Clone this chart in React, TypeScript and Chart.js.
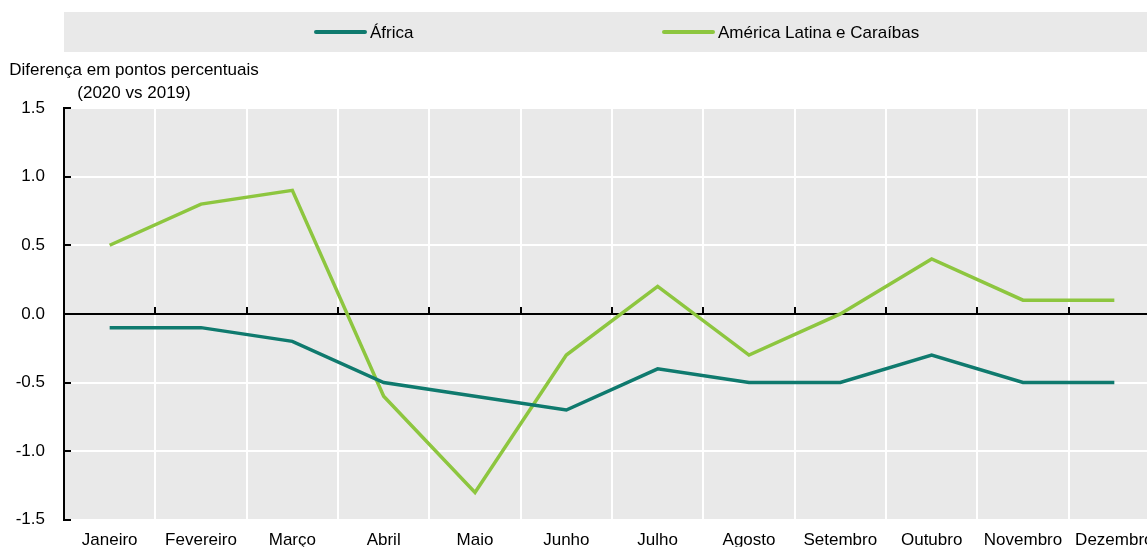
import React, { useEffect, useRef } from "react";
import { Chart, registerables } from "chart.js";

Chart.register(...registerables);

const months = [
  "Janeiro", "Fevereiro", "Março", "Abril", "Maio", "Junho",
  "Julho", "Agosto", "Setembro", "Outubro", "Novembro", "Dezembro",
];
const africa = [-0.1, -0.1, -0.2, -0.5, -0.6, -0.7, -0.4, -0.5, -0.5, -0.3, -0.5, -0.5];
const latam = [0.5, 0.8, 0.9, -0.6, -1.3, -0.3, 0.2, -0.3, 0.0, 0.4, 0.1, 0.1];
const seriesNames = ["África", "América Latina e Caraíbas"];
const seriesColors = ["#0f7a6e", "#8dc63f"];
const yMin = -1.5;
const yMax = 1.5;
const yStep = 0.5;
const yTitleLines = ["Diferença em pontos percentuais", "(2020 vs 2019)"];

const FONT = '"Liberation Sans", Arial, Helvetica, sans-serif';
const GREY = "#e9e9e9";

const decorPlugin = {
  id: "decor",
  beforeDraw(chart: any) {
    const { ctx, chartArea, width } = chart;
    ctx.save();
    // plot background
    ctx.fillStyle = GREY;
    ctx.fillRect(chartArea.left, chartArea.top, chartArea.right - chartArea.left, chartArea.bottom - chartArea.top);
    // legend box
    ctx.fillRect(chartArea.left, 12, width - chartArea.left, 40);
    const itemX = [315, 663];
    ctx.font = `17px ${FONT}`;
    ctx.textBaseline = "middle";
    ctx.textAlign = "left";
    chart.data.datasets.forEach((ds: any, i: number) => {
      const x = itemX[i];
      ctx.strokeStyle = ds.borderColor;
      ctx.lineWidth = 4;
      ctx.lineCap = "round";
      ctx.beginPath();
      ctx.moveTo(x + 1, 32);
      ctx.lineTo(x + 50, 32);
      ctx.stroke();
      ctx.fillStyle = "#000";
      ctx.fillText(ds.label, x + 55, 33);
    });
    // y-axis title
    ctx.textAlign = "center";
    ctx.textBaseline = "alphabetic";
    ctx.fillStyle = "#000";
    ctx.fillText(yTitleLines[0], 134, 75);
    ctx.fillText(yTitleLines[1], 134, 98);
    ctx.restore();
  },
  beforeDatasetsDraw(chart: any) {
    const { ctx, chartArea, scales } = chart;
    const x = scales.x;
    const y = scales.y;
    ctx.save();
    ctx.strokeStyle = "#000";
    ctx.lineWidth = 2;
    ctx.lineCap = "butt";
    const y0 = Math.round(y.getPixelForValue(0));
    // zero line
    ctx.beginPath();
    ctx.moveTo(chartArea.left, y0);
    ctx.lineTo(chartArea.right, y0);
    ctx.stroke();
    // ticks on zero line at category boundaries
    for (let i = 0; i < months.length - 1; i++) {
      const bx = Math.round((x.getPixelForValue(i) + x.getPixelForValue(i + 1)) / 2);
      ctx.beginPath();
      ctx.moveTo(bx, y0);
      ctx.lineTo(bx, y0 - 7);
      ctx.stroke();
    }
    // inward ticks on y axis
    y.ticks.forEach((t: any) => {
      const py = Math.round(y.getPixelForValue(t.value));
      ctx.beginPath();
      ctx.moveTo(chartArea.left, py);
      ctx.lineTo(chartArea.left + 7, py);
      ctx.stroke();
    });
    ctx.restore();
  },
};

function LineChart() {
  const ref = useRef<HTMLCanvasElement | null>(null);
  useEffect(() => {
    if (!ref.current) return;
    Chart.defaults.font.family = FONT;
    Chart.defaults.font.size = 17;
    Chart.defaults.color = "#000";
    const chart = new Chart(ref.current, {
      type: "line",
      data: {
        labels: months,
        datasets: [
          {
            label: seriesNames[0],
            data: africa,
            borderColor: seriesColors[0],
            backgroundColor: seriesColors[0],
            borderWidth: 3.5,
            pointRadius: 0,
            tension: 0,
          },
          {
            label: seriesNames[1],
            data: latam,
            borderColor: seriesColors[1],
            backgroundColor: seriesColors[1],
            borderWidth: 3.5,
            pointRadius: 0,
            tension: 0,
          },
        ],
      },
      options: {
        animation: false,
        responsive: false,
        maintainAspectRatio: false,
        layout: { padding: { top: 108, right: 0, left: 0, bottom: 0 } },
        plugins: {
          legend: { display: false },
          tooltip: { enabled: false },
          title: { display: false },
        },
        scales: {
          x: {
            type: "category",
            offset: true,
            grid: { offset: true, color: "#fff", lineWidth: 2, drawTicks: false },
            border: { display: false },
            ticks: { padding: 10, maxRotation: 0, autoSkip: false, font: { size: 17 } },
            afterFit: (s: any) => {
              s.height = 27;
              s.paddingLeft = 0;
              s.paddingRight = 0;
            },
          },
          y: {
            min: yMin,
            max: yMax,
            ticks: {
              stepSize: yStep,
              padding: 19,
              font: { size: 17 },
              callback: (v: any) => Number(v).toFixed(1),
            },
            grid: { color: "#fff", lineWidth: 2, drawTicks: false },
            border: { display: true, color: "#000", width: 2 },
            afterFit: (s: any) => {
              s.width = 64;
            },
          },
        },
      },
      plugins: [decorPlugin],
    });
    return () => chart.destroy();
  }, []);
  return <canvas ref={ref} width={1160} height={549} style={{ display: "block" }} />;
}

export default function App() {
  return (
    <div
      style={{
        position: "fixed",
        left: 0,
        top: 0,
        width: 1147,
        height: 549,
        overflow: "hidden",
        background: "#fff",
      }}
    >
      <LineChart />
    </div>
  );
}
